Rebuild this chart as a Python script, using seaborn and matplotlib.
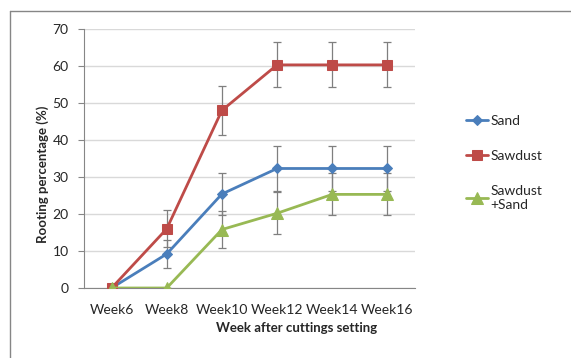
import numpy as np
import pandas as pd
import seaborn as sns
import matplotlib.pyplot as plt
from matplotlib.lines import Line2D

weeks = ["Week6", "Week8", "Week10", "Week12", "Week14", "Week16"]
sand = [0, 9.2, 25.4, 32.3, 32.3, 32.3]
sand_err = [0, 3.8, 5.7, 6.1, 6.1, 6.1]
sawdust = [0, 16.0, 48.0, 60.3, 60.3, 60.3]
sawdust_err = [0, 5.0, 6.6, 6.1, 6.1, 6.1]
mix = [0, 0, 15.8, 20.2, 25.3, 25.3]
mix_err = [0, 0, 5.1, 5.7, 5.7, 5.7]

series = [
    ("Sand", sand, sand_err, "#4A7EBB", "D", 5.5),
    ("Sawdust", sawdust, sawdust_err, "#BE4B48", "s", 7.5),
    ("Sawdust\n+Sand", mix, mix_err, "#98B954", "^", 8.5),
]

sns.set_style("white")
plt.rcParams['font.family'] = ['Lato', 'DejaVu Sans']

fig = plt.figure(figsize=(5.71, 3.58), dpi=100)
ax = fig.add_axes([84 / 571, 1 - 288 / 358, 331 / 571, 259 / 358])

for name, vals, err, color, marker, ms in series:
    df = pd.DataFrame({"week": weeks, "value": vals})
    ax.errorbar(weeks, vals, yerr=err, fmt="none", ecolor="#7F7F7F",
                elinewidth=0.9, capsize=3, capthick=0.9, zorder=2)
    sns.lineplot(data=df, x="week", y="value", ax=ax, color=color,
                 marker=marker, markersize=ms, markeredgecolor=color,
                 linewidth=2, label=name, zorder=3, sort=False)

ax.set_xlim(-0.5, 5.5)
ax.set_ylim(0, 70)
ax.set_yticks(np.arange(0, 71, 10))
ax.yaxis.grid(True, color="#D9D9D9", linewidth=1)
ax.set_axisbelow(True)
for s in ["top", "right"]:
    ax.spines[s].set_visible(False)
ax.spines["left"].set_color("#868686")
ax.spines["bottom"].set_color("#868686")
ax.tick_params(axis="y", left=True, length=4, color="#868686", labelsize=10, pad=7)
ax.tick_params(axis="x", bottom=False, labelsize=10, pad=8)
ax.set_xlabel("")
ax.set_ylabel("")

fig.text(297 / 571, 1 - 328 / 358, "Week after cuttings setting", ha="center",
         va="center", fontsize=9.5, fontweight="bold")
fig.text(43 / 571, 1 - 174 / 358, "Rooting percentage (%)", ha="center",
         va="center", rotation=90, fontsize=9.5, fontweight="bold")

ax.legend(loc="upper left", bbox_to_anchor=(466 / 571, 1 - 115 / 358),
          bbox_transform=fig.transFigure, frameon=False, fontsize=10,
          handlelength=1.6, handletextpad=0.15, labelspacing=1.65,
          borderaxespad=0, borderpad=0)

fig.add_artist(Line2D([9.5 / 571, 1], [1 - 10.5 / 358] * 2, color="#868686", linewidth=1))
fig.add_artist(Line2D([9.5 / 571] * 2, [0, 1 - 10.5 / 358], color="#868686", linewidth=1))

fig.savefig("out.png", dpi=100)
